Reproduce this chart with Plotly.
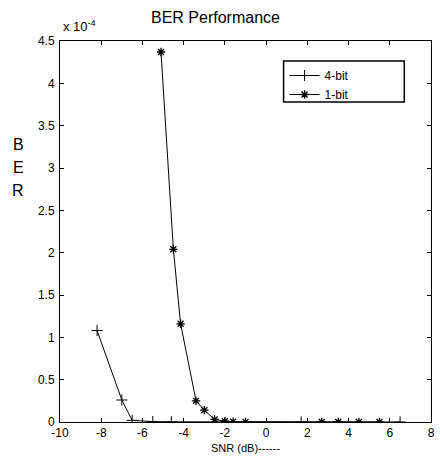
import plotly.graph_objects as go

# Data (BER values in absolute units)
snr_4bit = [-8.2, -7.0, -6.5, -5.5, -4.6, 1.7, 6.5]
ber_4bit = [1.08e-4, 0.26e-4, 0.02e-4, 0.005e-4, 0.002e-4, 0.0, 0.0]

snr_1bit = [-5.1, -4.5, -4.15, -3.4, -3.0, -2.5, -2.0, -1.6, -1.0, 2.7, 3.5, 4.5, 5.5]
ber_1bit = [4.37e-4, 2.04e-4, 1.16e-4, 0.25e-4, 0.14e-4, 0.03e-4, 0.01e-4,
            0.005e-4, 0.002e-4, 0.0, 0.0, 0.0, 0.0]

x_ticks = [-10, -8, -6, -4, -2, 0, 2, 4, 6, 8]
y_tick_labels = ["0", "0.5", "1", "1.5", "2", "2.5", "3", "3.5", "4", "4.5"]
y_ticks = [i * 0.5e-4 for i in range(len(y_tick_labels))]

FONT = "Liberation Sans, Arial, sans-serif"
W, H = 440, 464
ML, MR, MT, MB = 60, 5, 41, 42

fig = go.Figure()
fig.add_trace(go.Scatter(
    x=snr_4bit, y=ber_4bit, mode="lines+markers", name="4-bit",
    line=dict(color="black", width=1),
    marker=dict(symbol="cross-thin-open", size=8, color="black",
                line=dict(color="black", width=1)),
))
fig.add_trace(go.Scatter(
    x=snr_1bit, y=ber_1bit, mode="lines+markers", name="1-bit",
    line=dict(color="black", width=1),
    marker=dict(symbol="asterisk-open", size=7, color="black",
                line=dict(color="black", width=1.3)),
))

axis_common = dict(
    showline=True, linecolor="black", linewidth=1, mirror="allticks",
    ticks="inside", ticklen=4, tickcolor="black", showgrid=False,
    zeroline=False, tickfont=dict(family=FONT, size=12, color="black"),
)
fig.update_xaxes(range=[-10, 8], tickvals=x_ticks, ticktext=[str(t) for t in x_ticks],
                 **axis_common)
fig.update_yaxes(range=[0, 4.5e-4], tickvals=y_ticks, ticktext=y_tick_labels,
                 ticklabelstandoff=2, **axis_common)

pw = W - ML - MR
ph = H - MT - MB

def px(xp):
    return (xp - ML) / pw

def py(yp):
    return 1 - (yp - MT) / ph

annotations = [
    dict(text="BER Performance", x=px(217), y=py(17), xref="paper", yref="paper",
         showarrow=False, font=dict(family=FONT, size=16, color="black"),
         xanchor="center", yanchor="middle"),
    dict(text="x 10<sup>-4</sup>", x=px(61), y=py(26), xref="paper", yref="paper",
         showarrow=False, font=dict(family=FONT, size=13, color="black"),
         xanchor="left", yanchor="middle"),
    dict(text="SNR (dB)------", x=px(248), y=py(448), xref="paper", yref="paper",
         showarrow=False, font=dict(family=FONT, size=11, color="black"),
         xanchor="center", yanchor="middle"),
]
for letter, yy in [("B", 144), ("E", 167), ("R", 190)]:
    annotations.append(dict(text=letter, x=px(18), y=py(yy), xref="paper", yref="paper",
                            showarrow=False, font=dict(family=FONT, size=16, color="black"),
                            xanchor="center", yanchor="middle"))

fig.update_layout(
    width=W, height=H,
    margin=dict(l=ML, r=MR, t=MT, b=MB, pad=0),
    paper_bgcolor="white", plot_bgcolor="white",
    showlegend=True,
    legend=dict(x=px(287), y=py(61), xanchor="left", yanchor="top",
                bgcolor="rgba(0,0,0,0)", borderwidth=0,
                font=dict(family=FONT, size=12, color="black"),
                tracegroupgap=0, itemwidth=30),
    annotations=annotations,
    shapes=[dict(type="rect", xref="paper", yref="paper",
                 x0=px(286), x1=px(408), y0=py(102), y1=py(61),
                 line=dict(color="black", width=1.5), fillcolor="rgba(0,0,0,0)")],
)

fig.write_html("out.html")
